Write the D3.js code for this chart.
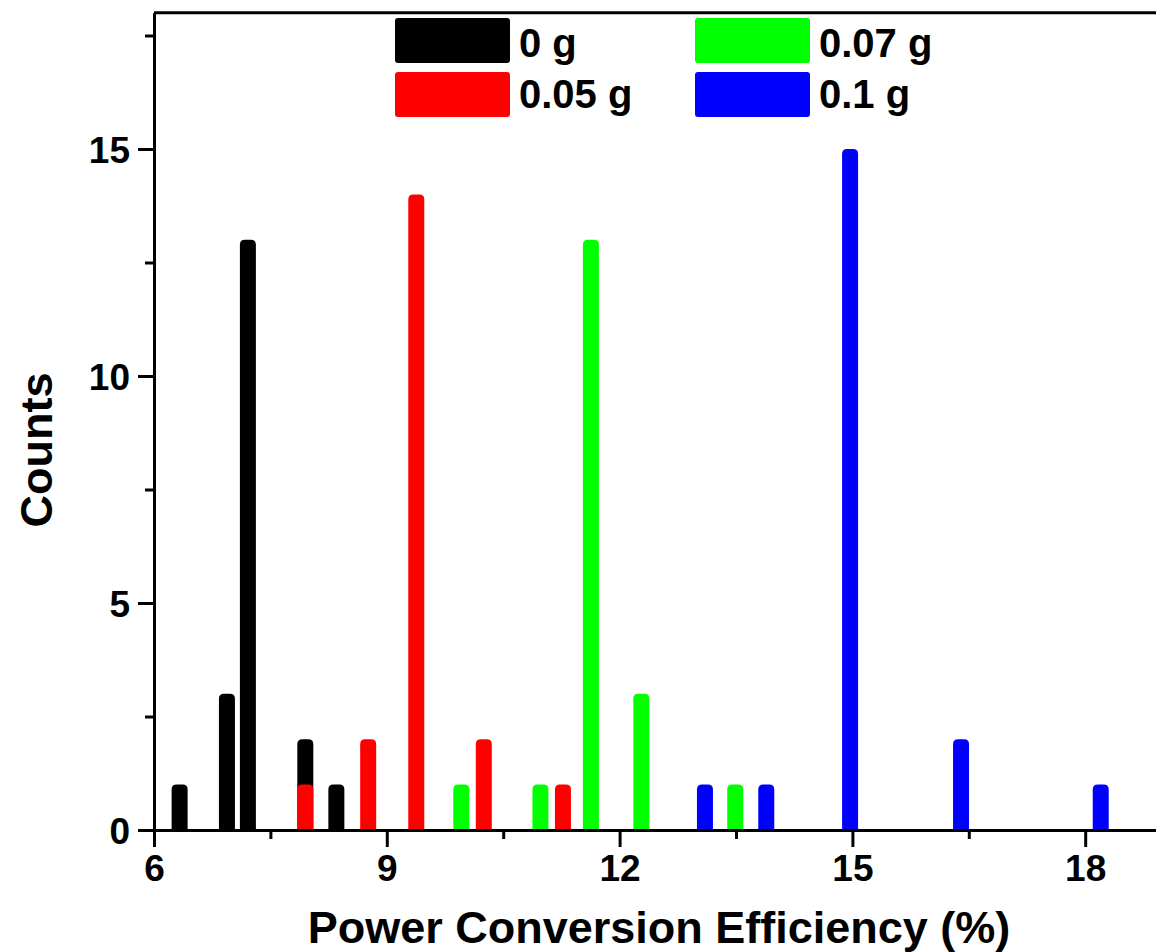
<!DOCTYPE html>
<html>
<head>
<meta charset="utf-8">
<script src="https://cdn.jsdelivr.net/npm/d3@7"></script>
<style>
  body { margin: 0; background: #fff; }
  text { font-family: "Liberation Sans", Arial, sans-serif; font-weight: bold; }
</style>
</head>
<body>
<div id="container"></div>
<script>
// series: bin centre (PCE %) and count
const seriesNames = ["0 g", "0.05 g", "0.07 g", "0.1 g"];
const seriesColors = ["#000000", "#ff0000", "#00ff00", "#0000ff"];
const pce0 = [6.33, 6.94, 7.21, 7.95, 8.35];
const counts0 = [1, 3, 13, 2, 1];
const pce005 = [7.95, 8.76, 9.38, 10.25, 11.27];
const counts005 = [1, 2, 14, 2, 1];
const pce007 = [9.96, 10.98, 11.63, 12.28, 13.49];
const counts007 = [1, 1, 13, 3, 1];
const pce01 = [13.1, 13.89, 14.97, 16.4, 18.2];
const counts01 = [1, 1, 15, 2, 1];
const xTicks = [6, 9, 12, 15, 18];
const xMinor = [7.5, 10.5, 13.5, 16.5];
const yTicks = [0, 5, 10, 15];
const yMinor = [2.5, 7.5, 12.5, 17.5];

const width = 1156;
const height = 952;
const margin = { left: 154, bottom: 830, top: 12.8 };

const svg = d3.select("#container")
              .append("svg")
              .attr("width", width)
              .attr("height", height);

const xScale = d3.scaleLinear()
                 .domain([6, 19])
                 .range([margin.left, margin.left + 13 * 77.6]);
const yScale = d3.scaleLinear()
                 .domain([0, 18])
                 .range([margin.bottom, margin.top]);

const allSeries = [
  pce0.map((p, i) => ({ x: p, n: counts0[i] })),
  pce005.map((p, i) => ({ x: p, n: counts005[i] })),
  pce007.map((p, i) => ({ x: p, n: counts007[i] })),
  pce01.map((p, i) => ({ x: p, n: counts01[i] }))
];

// bar with rounded top
const barW = 16;
const r = 5;
const barPath = (d) => {
  const x0 = xScale(d.x) - barW / 2;
  const x1 = x0 + barW;
  const y0 = yScale(0);
  const yt = yScale(d.n);
  return "M" + x0 + "," + y0 +
         "L" + x0 + "," + (yt + r) +
         "Q" + x0 + "," + yt + " " + (x0 + r) + "," + yt +
         "L" + (x1 - r) + "," + yt +
         "Q" + x1 + "," + yt + " " + x1 + "," + (yt + r) +
         "L" + x1 + "," + y0 + "Z";
};

allSeries.forEach((s, k) => {
  svg.append("g")
     .selectAll("path")
     .data(s)
     .enter()
     .append("path")
     .attr("d", barPath)
     .style("fill", seriesColors[k]);
});

// axes
const xAxis = d3.axisBottom(xScale).tickValues(xTicks).tickSize(17).tickPadding(8).tickSizeOuter(0);
const gx = svg.append("g")
              .attr("transform", "translate(0," + margin.bottom + ")")
              .call(xAxis);
gx.selectAll("text").style("font-size", "37px");
svg.append("g")
   .attr("transform", "translate(0," + margin.bottom + ")")
   .call(d3.axisBottom(xScale).tickValues(xMinor).tickSize(9).tickFormat("").tickSizeOuter(0))
   .select(".domain").remove();

const yAxis = d3.axisLeft(yScale).tickValues(yTicks).tickSize(16).tickPadding(8).tickSizeOuter(0);
const gy = svg.append("g")
              .attr("transform", "translate(" + margin.left + ",0)")
              .call(yAxis);
gy.selectAll("text").style("font-size", "37px").attr("dy", "0.36em");
svg.append("g")
   .attr("transform", "translate(" + margin.left + ",0)")
   .call(d3.axisLeft(yScale).tickValues(yMinor).tickSize(9).tickFormat("").tickSizeOuter(0))
   .select(".domain").remove();

svg.selectAll(".domain, .tick line")
   .attr("stroke", "#000")
   .attr("stroke-width", 3);
svg.selectAll(".tick text").attr("fill", "#000");

// top frame line
svg.append("line")
   .attr("x1", margin.left)
   .attr("x2", width)
   .attr("y1", yScale(18))
   .attr("y2", yScale(18))
   .attr("stroke", "#000")
   .attr("stroke-width", 3);

// axis titles
svg.append("text")
   .text("Power Conversion Efficiency (%)")
   .attr("text-anchor", "middle")
   .style("font-size", "45px")
   .attr("transform", "translate(659, 943)");
svg.append("text")
   .text("Counts")
   .attr("text-anchor", "middle")
   .style("font-size", "45px")
   .attr("transform", "translate(52, 450)rotate(270)");

// legend
const legendX = [395, 695];
const legendY = [18, 72];
const legendBase = [57, 108];
const legend = svg.append("g").attr("id", "legend");
seriesNames.forEach((name, i) => {
  const col = i === 0 || i === 1 ? 0 : 1;
  const row = i === 0 || i === 2 ? 0 : 1;
  legend.append("rect")
        .attr("x", legendX[col])
        .attr("y", legendY[row])
        .attr("width", 115)
        .attr("height", 45)
        .attr("rx", 3)
        .style("fill", seriesColors[i]);
  legend.append("text")
        .text(name)
        .attr("x", legendX[col] + 124)
        .attr("y", legendBase[row])
        .style("font-size", "40px");
});
</script>
</body>
</html>
